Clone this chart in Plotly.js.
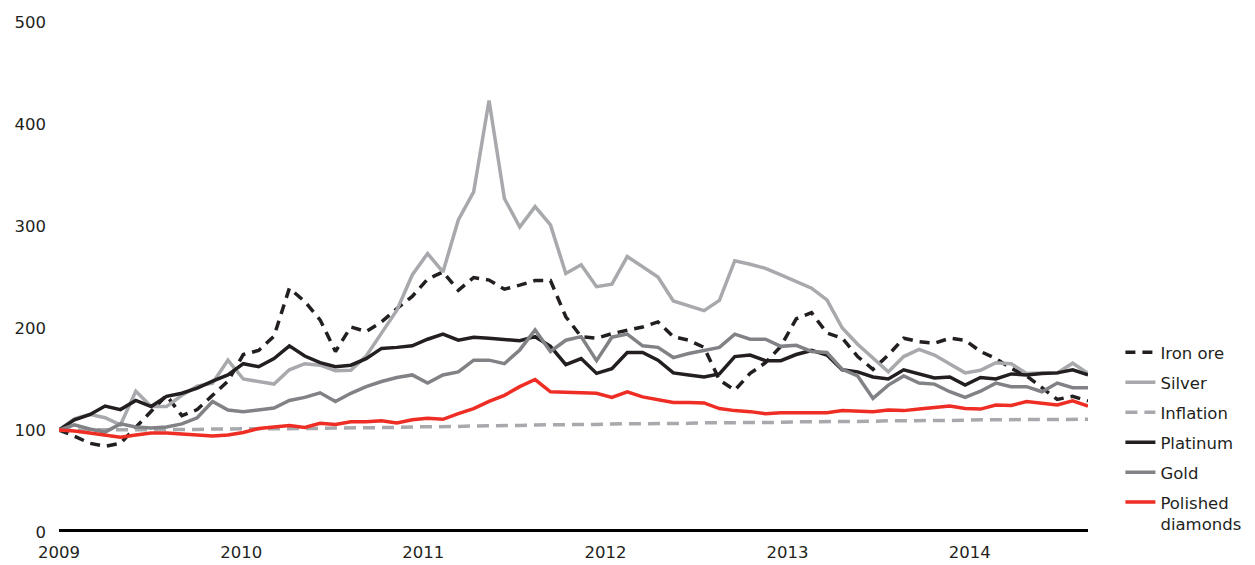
<!DOCTYPE html>
<html>
<head>
<meta charset="utf-8">
<script src="https://cdn.plot.ly/plotly-3.0.1.min.js"></script>
<style>
  html, body { margin: 0; padding: 0; background: #fff; }
  #chart { width: 1255px; height: 565px; }
</style>
</head>
<body>
<div id="chart"></div>
<script>
// Monthly index values, Jan 2009 = 100
const yearLabels = ['2009', '2010', '2011', '2012', '2013', '2014'];

const ironOre = [100, 94, 87, 84, 87, 103, 118, 134, 114, 120,
  134, 148, 174, 178, 192, 239, 226, 208, 177, 201,
  196.5, 206, 219, 231, 248, 255, 237, 249.5, 247, 238,
  242, 246.5, 246.5, 211, 191.5, 190, 194.5, 197.5, 201, 206,
  191.5, 188, 181, 149, 139, 155.5, 166, 182, 209, 215,
  195, 190, 172, 159.5, 173.5, 190, 186.5, 185, 190, 188,
  177, 170, 160.5, 153, 142, 130, 133, 128.5];

const silver = [100, 111, 115.5, 112, 105, 138, 123, 123, 134, 143,
  146, 168.5, 150, 147.5, 145, 159, 165, 163.5, 158, 158.5,
  172.5, 195, 217.5, 252, 273, 255, 306, 333.5, 423, 327,
  299, 319, 301, 253.5, 262, 240.5, 243, 270, 260, 250,
  226.5, 221.5, 217, 227, 266, 262.5, 258.5, 252, 245.5, 239,
  227.5, 200, 184, 170, 157, 172, 179, 173.5, 165, 156,
  158.5, 166, 165, 155.5, 156, 156, 165.5, 155.5];

const inflation = [100, 100, 100, 100, 100, 100, 100.5, 100.5, 100.5, 100.5,
  101, 101, 101, 101, 101, 101.5, 101.5, 101.5, 102, 102,
  102, 102.5, 102.5, 103, 103, 103.5, 103.5, 104, 104, 104.5,
  104.5, 105, 105, 105.5, 105.5, 105.5, 106, 106, 106, 106.5,
  106.5, 106.5, 107, 107, 107, 107.5, 107.5, 107.5, 108, 108,
  108, 108.5, 108.5, 108.5, 109, 109, 109, 109, 109.5, 109.5,
  110, 110, 110, 110, 110.5, 110.5, 110.5, 110.5];

const platinum = [100, 110, 115, 123.5, 120, 129, 123, 133, 136, 141,
  148, 154, 165, 162, 170, 182.5, 172.5, 166, 162, 163.5,
  170, 180, 181, 182.5, 189, 194, 188, 191, 190, 189,
  187.5, 191.5, 182, 164, 170, 155.5, 160, 176, 176, 168.5,
  156, 154, 152, 155, 172, 173.5, 168, 168, 174, 178,
  173.5, 159, 157, 152, 150, 159, 155, 151, 152, 144,
  151.5, 150, 155, 154, 155.5, 156, 159, 154];

const gold = [100, 105, 101, 98, 106, 103, 102, 103, 106, 112,
  128, 119.5, 118, 120, 121.5, 129, 132, 136.5, 128, 136,
  142.5, 147.5, 151.5, 154, 146, 154, 157, 168.5, 168.5, 165,
  178.5, 198, 177, 188, 191.5, 168, 191, 194, 182.5, 181,
  171, 175, 178, 181, 194, 189, 189, 182, 183, 177,
  176, 159.5, 153, 131, 144, 153, 146, 145, 137.5, 132,
  138, 146, 142.5, 142.5, 137.5, 146, 141.5, 141.5];

const polishedDiamonds = [100, 99, 97, 95, 93, 95, 97, 97, 96, 95,
  94, 95, 97.5, 101.5, 103, 104.5, 102.5, 106.5, 105.5, 108,
  108, 109, 107, 110, 111.5, 110.5, 116, 121, 128, 134,
  142.5, 149.5, 137.5, 137, 136.5, 136, 132, 137.5, 132.5, 130,
  127, 127, 126.5, 121, 119, 118, 116, 117, 117, 117,
  117, 119, 118.5, 118, 119.5, 119, 120.5, 122, 123.5, 121,
  120.5, 124.5, 124, 128, 126, 124.5, 128.5, 123.5];

const seriesNames = ['Iron ore', 'Silver', 'Inflation', 'Platinum', 'Gold', 'Polished<br>diamonds'];

const months = ironOre.map((_, i) => i);

const styles = [
  {color: '#231f20', dash: '10px,7px'},
  {color: '#a7a9ac', dash: 'solid'},
  {color: '#a7a9ac', dash: '12px,7px'},
  {color: '#231f20', dash: 'solid'},
  {color: '#808285', dash: 'solid'},
  {color: '#ee2e24', dash: 'solid'}
];
const values = [ironOre, silver, inflation, platinum, gold, polishedDiamonds];

const traces = values.map((v, i) => ({
  type: 'scatter',
  mode: 'lines',
  x: months,
  y: v,
  name: seriesNames[i],
  legendgroup: 'g' + i,
  line: {color: styles[i].color, width: 3.5, dash: styles[i].dash},
  hoverinfo: 'x+y+name'
}));

const monthsPerLabel = 11.86;
const layout = {
  width: 1255,
  height: 565,
  margin: {l: 59, r: 167, t: 22, b: 33, autoexpand: false},
  paper_bgcolor: '#ffffff',
  plot_bgcolor: '#ffffff',
  font: {family: '"DejaVu Sans", sans-serif', size: 16.5, color: '#231f20'},
  showlegend: true,
  legend: {
    x: 1.0315, xanchor: 'left',
    y: 0.386, yanchor: 'top',
    valign: 'top',
    traceorder: 'grouped',
    font: {size: 16.5, color: '#231f20'},
    tracegroupgap: 5.5,
    bgcolor: 'rgba(0,0,0,0)'
  },
  xaxis: {
    type: 'linear',
    range: [0, months.length - 1],
    showgrid: false,
    zeroline: false,
    showline: false,
    ticks: '',
    tickmode: 'array',
    tickvals: yearLabels.map((_, i) => i * monthsPerLabel),
    ticktext: yearLabels,
    ticklabelstandoff: 8
  },
  yaxis: {
    range: [0, 500],
    tickvals: [0, 100, 200, 300, 400, 500],
    showgrid: false,
    zeroline: false,
    showline: false,
    ticks: '',
    ticklabelstandoff: 12
  },
  shapes: [{
    type: 'line', xref: 'paper', x0: 0, x1: 1, yref: 'y', y0: 0, y1: 0,
    line: {color: '#000000', width: 6}, layer: 'above'
  }]
};

Plotly.newPlot('chart', traces, layout, {displayModeBar: false, staticPlot: true});
</script>
</body>
</html>
